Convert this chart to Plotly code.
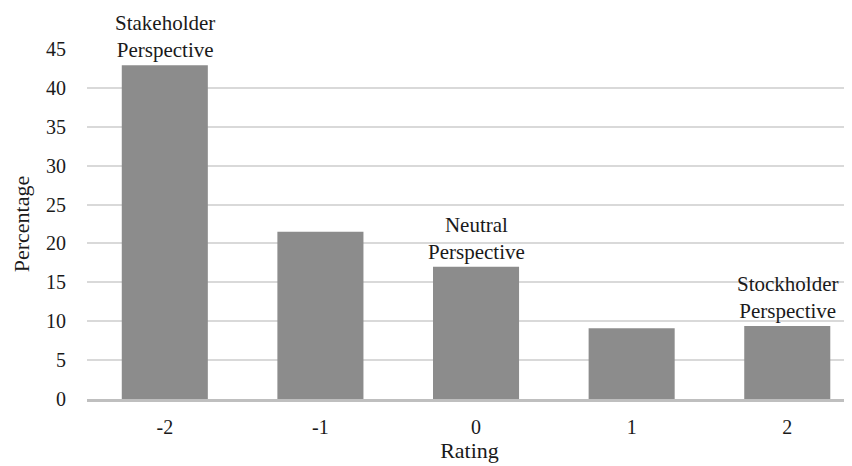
import plotly.graph_objects as go

ratings = ["-2", "-1", "0", "1", "2"]
percentages = [42.9, 21.5, 17.0, 9.1, 9.4]
label_categories = ["-2", "0", "2"]
label_texts = ["Stakeholder<br>Perspective", "Neutral<br>Perspective", "Stockholder<br>Perspective"]
y_ticks = [0, 5, 10, 15, 20, 25, 30, 35, 40, 45]

FONT = "Liberation Serif"
TXT = "#1a1a1a"

fig = go.Figure(go.Bar(x=ratings, y=percentages, marker=dict(color="#8c8c8c", line=dict(width=0)), width=0.553))

for cat, txt in zip(label_categories, label_texts):
    idx = ratings.index(cat)
    fig.add_annotation(x=idx, y=percentages[idx], xref="x", yref="y", text=txt, showarrow=False,
                       yanchor="bottom", yshift=1,
                       font=dict(family=FONT, size=21, color=TXT))

fig.update_layout(
    width=844, height=458,
    margin=dict(l=79, r=0, t=41, b=67, autoexpand=False),
    paper_bgcolor="white", plot_bgcolor="white",
    showlegend=False,
    font=dict(family=FONT, size=20, color=TXT),
    xaxis=dict(type="category", range=[-0.5, 4.416], title=dict(text="Rating", standoff=2, font=dict(size=22)),
               showgrid=False, showline=True, automargin=False,
               linecolor="#bfbfbf", linewidth=3, ticks="", ticklabelstandoff=8, tickfont=dict(size=20)),
    yaxis=dict(title=dict(text="Percentage", standoff=10, font=dict(size=22)), range=[0, 45], tickvals=y_ticks,
               automargin=False,
               showgrid=True, gridcolor="#d9d9d9", gridwidth=2, zeroline=False, showline=False,
               ticks="", ticklabelstandoff=20, tickfont=dict(size=20)),
)

fig.write_html("out.html")
